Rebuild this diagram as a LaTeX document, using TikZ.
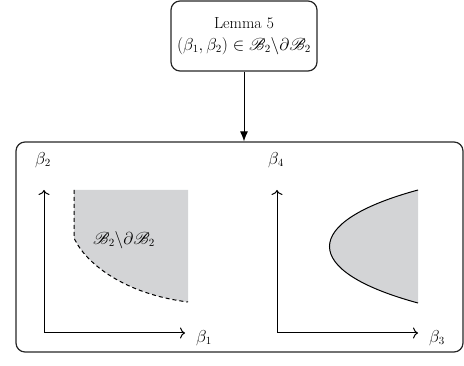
\documentclass[tikz,border=0pt]{standalone}
\usepackage{amssymb}
\usepackage{mathrsfs}
\usetikzlibrary{arrows.meta}
\definecolor{shade}{RGB}{211,212,214}
\begin{document}
\begin{tikzpicture}[
    x=1pt,y=-1pt,
    every node/.style={font=\fontsize{16}{22}\selectfont},
    frame/.style={draw=black!85, rounded corners=9pt, line width=1.2pt},
    axis/.style={draw=black, line width=1pt, -{To[length=5pt,width=11pt]}},
    region/.style={fill=shade, draw=none},
    bound/.style={draw=black, line width=1pt}
]
    \useasboundingbox (0,0) rectangle (464,366);

    \node[frame, minimum width=146pt, minimum height=70pt, align=center, inner sep=0pt] (lemma) at (244,36)
        {Lemma 5\\$(\beta_1,\beta_2)\in\mathscr{B}_2\backslash\partial\mathscr{B}_2$};
    \node[frame, minimum width=447pt, minimum height=210pt] (panel) at (239.5,247) {};
    \draw[-{Latex[length=10pt,width=8pt]}, line width=1pt] (lemma.south) -- (lemma.south |- panel.north);

    \fill[region] (74,190) -- (188,190) -- (188,302) .. controls (125,294) and (86,264) .. (74,238) -- cycle;
    \draw[bound, dash pattern=on 4pt off 3pt] (74,190) -- (74,238) .. controls (86,264) and (125,294) .. (188,302);
    \node (setlabel) at (124,240) {$\mathscr{B}_2\backslash\partial\mathscr{B}_2$};

    \fill[region] (418,190) .. controls (300,222) and (300,271) .. (418,303) -- cycle;
    \draw[bound] (418,190) .. controls (300,222) and (300,271) .. (418,303);

    \foreach \ox/\xl/\yl in {44/1/2,277/3/4} {
        \draw[axis] (\ox,333) -- (\ox,190);
        \draw[axis] (\ox,333) -- (\ox+141,333);
        \node at (\ox-1,160) {$\beta_{\yl}$};
        \node at (\ox+160,338) {$\beta_{\xl}$};
    }
\end{tikzpicture}
\end{document}
